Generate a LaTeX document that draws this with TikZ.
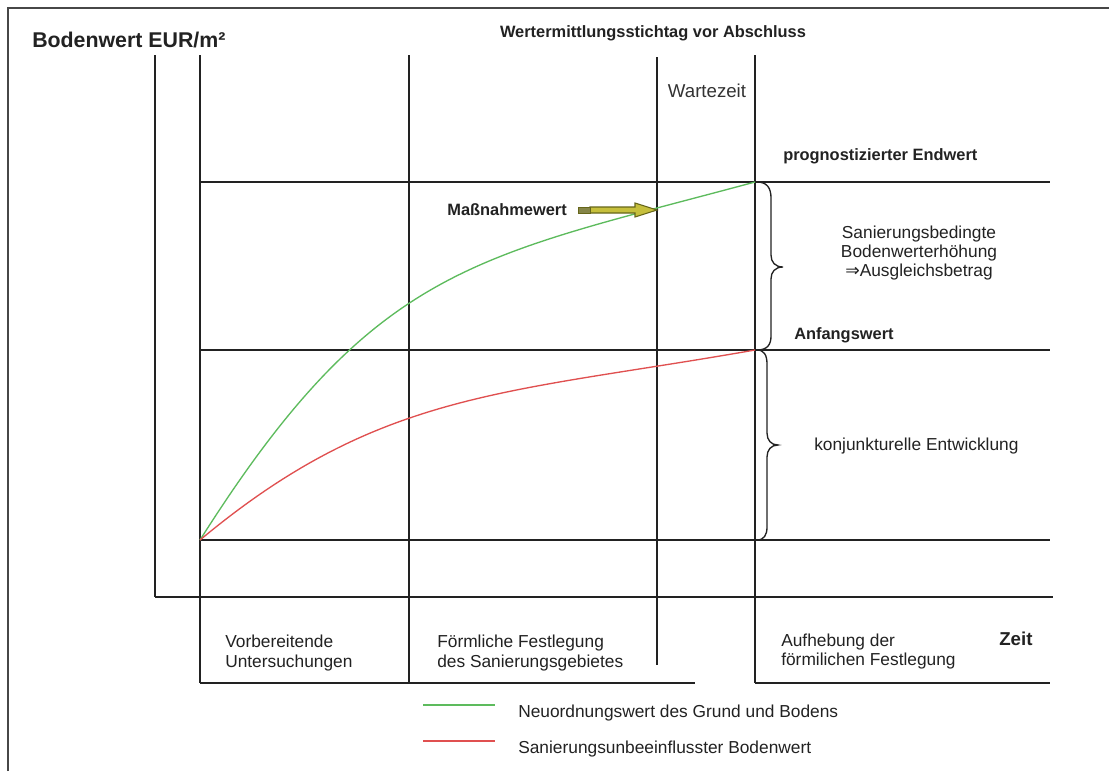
\documentclass[tikz,border=0pt]{standalone}
\usepackage{fontspec}
\setmainfont{Liberation Sans}
\newfontfamily\symfont{DejaVu Sans}
\definecolor{gcol}{HTML}{5DBB5D}
\definecolor{rcol}{HTML}{E05050}
\definecolor{afill}{HTML}{C6BF3C}
\definecolor{aline}{HTML}{66661A}
\definecolor{ink}{HTML}{222222}
\begin{document}
\begin{tikzpicture}[x=0.75pt,y=-0.75pt,
  gridline/.style={draw=ink,line width=1.1pt},
  frameline/.style={draw=black!72,line width=1.6pt},
  txt/.style={inner sep=0pt,text=ink,font=\fontsize{13}{14.5}\selectfont},
  btxt/.style={inner sep=0pt,text=ink,font=\fontsize{12.3}{14}\selectfont\bfseries},
  bracel/.style={draw=ink,line width=1pt},
  curveg/.style={draw=gcol,line width=1pt},
  curver/.style={draw=rcol,line width=1pt}]
\useasboundingbox (0,0) rectangle (1109,771);
\fill[white] (0,0) rectangle (1109,771);
% frame
\coordinate (F1) at (8,771); \coordinate (F2) at (8,8); \coordinate (F3) at (1109,8);
\draw[frameline] (F1) -- (F2) -- (F3);
% vertical lines
\coordinate (V1a) at (155,55);  \coordinate (V1b) at (155,597);
\coordinate (V2a) at (200,55);  \coordinate (V2b) at (200,683);
\coordinate (V3a) at (409,55);  \coordinate (V3b) at (409,683);
\coordinate (V4a) at (657,57);  \coordinate (V4b) at (657,665);
\coordinate (V5a) at (755,55);  \coordinate (V5b) at (755,683);
\draw[gridline] (V1a) -- (V1b);
\draw[gridline] (V2a) -- (V2b);
\draw[gridline] (V3a) -- (V3b);
\draw[gridline] (V4a) -- (V4b);
\draw[gridline] (V5a) -- (V5b);
% horizontal lines
\coordinate (H1a) at (200,182); \coordinate (H1b) at (1050,182);
\coordinate (H2a) at (200,350); \coordinate (H2b) at (1050,350);
\coordinate (H3a) at (200,540); \coordinate (H3b) at (1050,540);
\coordinate (H4a) at (155,597); \coordinate (H4b) at (1053,597);
\coordinate (H5a) at (200,683); \coordinate (H5b) at (695,683);
\coordinate (H6a) at (755,683); \coordinate (H6b) at (1050,683);
\draw[gridline] (H1a) -- (H1b);
\draw[gridline] (H2a) -- (H2b);
\draw[gridline] (H3a) -- (H3b);
\draw[gridline] (H4a) -- (H4b);
\draw[gridline] (H5a) -- (H5b);
\draw[gridline] (H6a) -- (H6b);
% curves
\coordinate (O) at (200,540);
\coordinate (GE) at (755,182);
\coordinate (RE) at (755,350);
\draw[curveg] (O) .. controls (375,263.5) and (475,257.6) .. (GE);
\draw[curver] (O) .. controls (380,390) and (505,394) .. (RE);
% braces
\draw[bracel] (757,182) .. controls (767,182) and (771,188) .. (771,198) -- (771,255)
  .. controls (771,262) and (775,267) .. (783,267) .. controls (775,267) and (771,272) .. (771,279)
  -- (771,336) .. controls (771,345) and (767,350) .. (757,350);
\draw[bracel] (757,350) .. controls (764,350) and (767,355) .. (767,364) -- (767,433)
  .. controls (767,440) and (771,445) .. (778,445) .. controls (771,445) and (767,450) .. (767,457)
  -- (767,527) .. controls (767,535) and (764,540) .. (757,540);
% Massnahmewert arrow
\node[btxt,anchor=base east] (mw) at (567,215) {Maßnahmewert};
\fill[afill,draw=aline,line width=0.8pt] (590,207) -- (635,207) -- (635,203) -- (657,210)
  -- (635,217) -- (635,213) -- (590,213) -- cycle;
\fill[aline!80,draw=aline,line width=0.6pt] (578,207) rectangle (590,213);
% texts
\node[inner sep=0pt,text=ink,font=\fontsize{16}{18}\selectfont\bfseries,anchor=base west] (title) at (32,47) {Bodenwert EUR/m²};
\node[btxt,anchor=base] (stichtag) at (653,37) {Wertermittlungsstichtag vor Abschluss};
\node[inner sep=0pt,text=black!80,font=\fontsize{14}{16}\selectfont,anchor=base] (warte) at (707,97) {Wartezeit};
\node[btxt,anchor=base west] (endwert) at (783,160) {prognostizierter Endwert};
\node[txt,anchor=base] (san1) at (919,238) {Sanierungsbedingte};
\node[txt,anchor=base] (san2) at (919,257) {Bodenwerterhöhung};
\node[txt,anchor=base] (san3) at (919,276) {{\symfont ⇒}Ausgleichsbetrag};
\node[btxt,anchor=base west] (anfang) at (794,339) {Anfangswert};
\node[txt,anchor=base west] (konj) at (814,450) {konjunkturelle Entwicklung};
\node[txt,anchor=base west] (vor1) at (225,647) {Vorbereitende};
\node[txt,anchor=base west] (vor2) at (225,667) {Untersuchungen};
\node[txt,anchor=base west] (foe1) at (437,647) {Förmliche Festlegung};
\node[txt,anchor=base west] (foe2) at (437,667) {des Sanierungsgebietes};
\node[txt,anchor=base west] (auf1) at (781,646) {Aufhebung der};
\node[txt,anchor=base west] (auf2) at (781,665) {förmilichen Festlegung};
\node[inner sep=0pt,text=ink,font=\fontsize{14}{16}\selectfont\bfseries,anchor=base west] (zeit) at (999,645) {Zeit};
% legend
\coordinate (LG1) at (423,705); \coordinate (LG2) at (495,705);
\coordinate (LR1) at (423,741); \coordinate (LR2) at (495,741);
\draw[curveg] (LG1) -- (LG2);
\draw[curver] (LR1) -- (LR2);
\node[txt,anchor=base west] (leg1) at (518,717) {Neuordnungswert des Grund und Bodens};
\node[txt,anchor=base west] (leg2) at (518,753) {Sanierungsunbeeinflusster Bodenwert};
\end{tikzpicture}
\end{document}
